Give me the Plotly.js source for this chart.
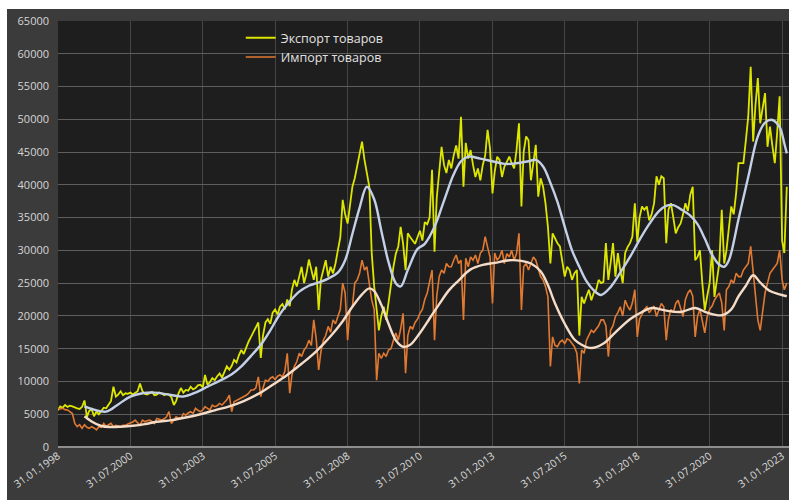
<!DOCTYPE html>
<html>
<head>
<meta charset="utf-8">
<script src="https://cdn.plot.ly/plotly-3.0.1.min.js"></script>
<style>
  html, body { margin:0; padding:0; background:#ffffff; }
  #chart { position:absolute; left:7px; top:9px; width:782px; height:491px; }
</style>
</head>
<body>
<div id="chart"></div>
<script>
// ---- DATA (monthly, starting January 1998, month-end dates) ----
const startYear = 1998;
const seriesNames = ["Экспорт товаров", "Импорт товаров"];

const exportGoods = [
  5600, 6200, 6000, 6400, 6100, 6300, 6200, 6000, 5900, 5800, 6100, 7100,
  4600, 5500, 5800, 4700, 5400, 5000, 5600, 6000, 5900, 6500, 7000, 9200,
  7700, 8000, 8500, 7900, 8200, 8100, 8300, 8000, 8300, 8500, 9700, 8500,
  8100, 8000, 8200, 8400, 7900, 8000, 8300, 8200, 7900, 8100, 8000, 7600,
  6400, 7000, 8200, 9000, 8300, 8700, 8600, 9200, 8800, 9000, 9400, 9500,
  9100, 11000, 9500, 9900, 10500, 10200, 10800, 11200, 10600, 11500, 12300, 11800,
  12400, 13300, 12900, 14000, 14800, 14200, 15200, 16100, 16800, 17500, 18400, 19000,
  13600, 17000, 19000, 19500, 18800, 20500, 21000, 20200, 21400, 21800, 21000, 22500,
  21500, 24000, 25500, 24500, 26000, 27500, 25000, 26500, 28600, 27000, 25500, 27500,
  20900, 25500, 27000, 28500, 26000, 27500, 26500, 28000, 30000, 32000, 37700, 35500,
  34100, 37000, 39700, 41000, 42800, 44500, 46600, 43800, 41500, 39700, 29600, 24500,
  21000, 17800, 20000, 21400, 19400, 22000, 25500, 27500, 29500, 30600, 33600, 31000,
  27000, 32600, 32000, 31500, 31000, 32000, 33000, 31500, 34300, 34000, 35000, 42300,
  29800, 38000, 42000, 45800, 43000, 41800, 43800, 42500, 44500, 46000, 44000, 50400,
  39700, 46400, 44000, 45300, 43000, 41200, 42500, 40700, 43000, 44500, 48400, 45500,
  38700, 42000, 44300, 43800, 41200, 42800, 43500, 44300, 43300, 42500, 45300, 49400,
  36700, 45000, 47400, 46800, 40700, 43500, 46100, 38200, 41000, 39700, 37200, 33600,
  28000, 32600, 31800, 31100, 30600, 28000, 26000, 27500, 27000, 25500, 26500, 27000,
  17000, 22900, 21900, 23000, 24000, 22400, 23500, 24000, 25500, 25000, 25200, 31100,
  25500, 28000, 31100, 26000, 29600, 27000, 25000, 29600, 30500, 31100, 32100, 37200,
  31300, 35000, 36700, 36200, 36700, 34600, 35500, 37200, 41300, 40000, 41300, 41000,
  31100, 36200, 37200, 35000, 32600, 33500, 34100, 35500, 37200, 36000, 38500, 39700,
  28500, 29000, 30000, 25000, 20900, 23000, 25000, 30000, 22900, 25500, 28000, 36200,
  28000, 30000, 33100, 36700, 35500, 38700, 43300, 43300, 43300, 46800, 50400, 58000,
  46600, 52000, 56300, 49400, 51500, 54000, 45800, 48900, 46000, 43300, 48000, 53500,
  31500, 29600, 39700
];

const importGoods = [
  5900, 5800, 5900, 5700, 5650, 5400, 5100, 3600, 3100, 3400, 2850, 3400,
  3000, 2850, 3100, 2900, 2600, 3100, 3000, 3600, 3100, 3400, 3600, 3100,
  3300, 3200, 3100, 3300, 3300, 3500, 3600, 3800, 4100, 3700, 3300, 4100,
  3850, 4000, 4100, 3900, 3600, 4350, 4200, 4100, 4300, 4600, 5400, 3600,
  4100, 4600, 4400, 4350, 5100, 4850, 5200, 5400, 5100, 5900, 5600, 5400,
  5650, 6150, 5900, 5650, 6400, 6150, 6300, 6650, 6400, 6900, 7200, 7900,
  5400, 6900, 7100, 7200, 7400, 7700, 7900, 8200, 8700, 8700, 9000, 10700,
  7700, 9000, 10200, 10000, 10500, 10700, 10300, 10800, 11000, 10700, 11500, 14300,
  8200, 11000, 12300, 13000, 14300, 13800, 14800, 15300, 16300, 15500, 19400, 16500,
  11750, 14500, 16300, 17000, 18400, 17500, 19400, 18800, 19900, 21000, 25000, 23500,
  16300, 21000, 21400, 25000, 25500, 26500, 28500, 27000, 27500, 24500, 22400, 21000,
  10200, 14300, 13500, 14300, 13800, 14800, 15000, 16300, 17400, 16300, 18000, 20400,
  11250, 17000, 18400, 18000, 19000, 19500, 20400, 21000, 22500, 23500, 25500, 27000,
  16300, 23000, 26000, 27000, 26500, 28000, 27500, 27500, 28500, 29300, 28000, 28500,
  19400, 28800, 27500, 29000, 28500, 29300, 28000, 29600, 30000, 32100, 30500, 29000,
  21900, 29600, 28500, 29000, 30000, 28000, 29500, 29000, 30000, 28500, 29500, 32600,
  20900, 27500, 28000, 27000, 28000, 29000, 28500, 27000, 26000, 25500, 24500, 22900,
  12300, 16800, 15500, 15300, 16000, 16300, 15800, 16500, 16300, 15800, 15300, 14300,
  9700, 14800, 14300, 16300, 17000, 17800, 17500, 18000, 18500, 19400, 19400, 18500,
  13800, 17800, 18500, 19900, 20500, 21400, 20000, 22400, 21500, 20900, 22000, 24000,
  16800, 19500, 20400, 21000, 21400, 20500, 21000, 21500, 19900, 21000, 21900, 21400,
  16300, 19500, 21000, 20500, 21900, 22400, 21000, 19900, 22500, 23500, 24000, 23000,
  16800, 19900, 21000, 19000, 17400, 19900, 21000, 21500, 22400, 23000, 23500, 22000,
  17800, 24000, 24500, 25500, 25000, 26500, 26000, 26000, 27000, 27500, 28000, 30600,
  27000, 24000, 19400, 17800, 20900, 23500, 25000, 26500, 27000, 27500, 28000, 30000,
  25500, 24000, 25000
];

// smoothed (trend) lines, read at month offsets from January 1998
const trendExportMonths = [11,15,20,25,30,35,40,46,52,57,62,67,72,76,80,84,88,92,96,100,104,108,112,116,119,122,125,128,131,134,137,140,142,145,149,152,156,160,164,167,170,175,180,185,190,195,198,201,204,207,210,213,216,219,222,225,229,233,237,241,245,249,252,255,258,262,265,268,271,274,276,278,282,286,290,293,296,299,301,302];
const trendExportValues = [6200,5700,5400,6500,7700,8200,8300,8000,7700,8300,9200,10100,11100,12300,13900,15600,17800,20300,22200,23700,24600,25100,25700,26600,28500,32500,36500,39700,37800,33000,28200,25000,24500,27000,30200,31000,33600,37600,41600,43600,44300,44000,43600,43200,43300,43600,43800,42800,40300,37400,33600,30000,27500,25300,23900,23200,24400,26600,29000,31600,34000,36000,36800,36900,36300,35300,34000,31800,29300,27800,27500,28500,34800,41200,47400,49500,49900,48800,46300,44800];

const trendImportMonths = [11,14,18,22,26,31,36,41,47,53,59,65,71,77,83,89,95,101,107,113,118,122,126,129,131,134,137,140,143,146,150,154,158,162,166,171,176,181,187,192,196,200,203,206,210,214,217,221,226,231,237,242,246,252,258,264,269,275,279,282,285,288,291,295,299,302];
const trendImportValues = [4700,3900,3200,3050,3100,3250,3500,3850,4100,4500,5000,5600,6200,7000,8100,9500,11000,12700,14600,16900,19200,21400,23300,24200,23800,21700,18800,16300,15300,15600,17400,19600,21800,23900,25400,27100,27800,28100,28500,28400,28000,26800,24700,21900,18800,16400,15600,15100,15800,17500,19500,20600,21200,20800,20600,21200,20500,20100,21000,23000,24600,26200,25100,23800,23300,23000];

const tickLabels = ["31.01.1998","31.07.2000","31.01.2003","31.07.2005","31.01.2008","31.07.2010","31.01.2013","31.07.2015","31.01.2018","31.07.2020","31.01.2023"];

// ---- helpers ----
function monthEnd(m) {
  const y = startYear + Math.floor(m / 12);
  const mo = (m % 12) + 1;
  const d = new Date(Date.UTC(y, mo, 0));
  return d.toISOString().slice(0, 10);
}
function labelToIso(s) {
  const p = s.split(".");
  return p[2] + "-" + p[1] + "-" + p[0];
}

const xMonthly = exportGoods.map((_, i) => monthEnd(i));
const xMonthlyImp = importGoods.map((_, i) => monthEnd(i));

const traces = [
  { x: xMonthly, y: exportGoods, type: "scatter", mode: "lines", name: seriesNames[0],
    line: { color: "#dde600", width: 1.8 } },
  { x: xMonthlyImp, y: importGoods, type: "scatter", mode: "lines", name: seriesNames[1],
    line: { color: "#e07a32", width: 1.6 } },
  { x: trendExportMonths.map(monthEnd), y: trendExportValues, type: "scatter", mode: "lines",
    showlegend: false, hoverinfo: "skip",
    line: { color: "#c3d0e6", width: 2.4, shape: "spline", smoothing: 1 } },
  { x: trendImportMonths.map(monthEnd), y: trendImportValues, type: "scatter", mode: "lines",
    showlegend: false, hoverinfo: "skip",
    line: { color: "#f4dcc8", width: 2.4, shape: "spline", smoothing: 1 } }
];

const layout = {
  width: 782, height: 491,
  margin: { l: 51, r: 0, t: 12, b: 53 },
  paper_bgcolor: "#3b3b3b",
  plot_bgcolor: "#1e1e1e",
  font: { family: "Open Sans, sans-serif", color: "#d6d6d6" },
  showlegend: true,
  legend: {
    x: 0.25, y: 0.995, xanchor: "left", yanchor: "top",
    bgcolor: "rgba(0,0,0,0)", borderwidth: 0,
    font: { size: 12.5, color: "#e2e2e2", family: "Open Sans, sans-serif" },
    tracegroupgap: 0, itemwidth: 30
  },
  xaxis: {
    type: "date",
    range: [labelToIso(tickLabels[0]), "2023-04-28"],
    tickmode: "array",
    tickvals: tickLabels.map(labelToIso),
    ticktext: tickLabels,
    tickangle: -35,
    tickfont: { size: 10.5, color: "#dcdcdc" },
    showgrid: true, gridcolor: "#464646", gridwidth: 1,
    zeroline: false, showline: false, ticks: ""
  },
  yaxis: {
    range: [0, 65000],
    dtick: 5000,
    tickformat: "d",
    tickfont: { size: 11, color: "#d6d6d6" },
    showgrid: true, gridcolor: "#5e5e5e", gridwidth: 1,
    zeroline: true, zerolinecolor: "#8e8e8e", zerolinewidth: 1.5,
    showline: false, ticks: "", ticklabelstandoff: 8
  }
};

Plotly.newPlot("chart", traces, layout, { displayModeBar: false, staticPlot: true });
</script>
</body>
</html>
